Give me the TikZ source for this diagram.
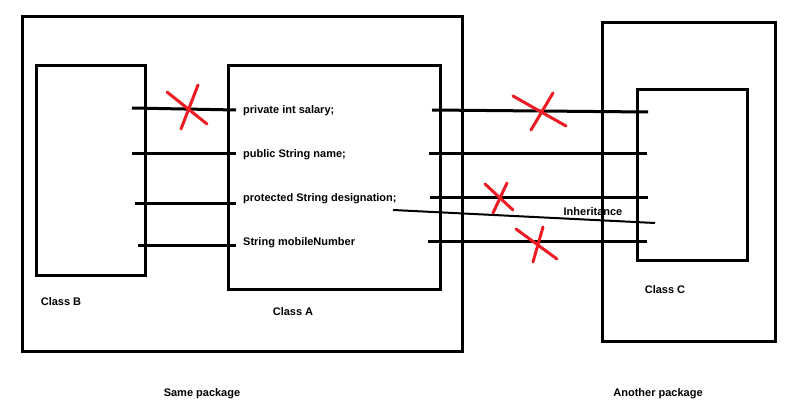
\documentclass[tikz,border=0pt]{standalone}
\usepackage{fontspec}
\newfontfamily\paintfont{Liberation Sans}
\definecolor{xred}{RGB}{237,28,36}
\begin{document}
\begin{tikzpicture}[x=1pt,y=-1pt,
  box/.style={draw=black,line width=3pt,fill=none},
  wire/.style={draw=black,line width=3pt},
  thinwire/.style={draw=black,line width=2pt},
  cross/.style={draw=xred,line width=3pt,line cap=round},
  lbl/.style={font=\paintfont\bfseries\fontsize{11}{13}\selectfont,inner sep=0pt},
  attr/.style={lbl,anchor=west}]
\useasboundingbox[fill=white] (0,0) rectangle (811,414);
% boxes
\draw[box] (22,17) rectangle (462,351);
\draw[box] (36,66) rectangle (145,275);
\draw[box] (228,66) rectangle (440,289);
\draw[box] (602,23) rectangle (775,341);
\draw[box] (637,90) rectangle (747,260);
% attribute texts
\node[attr] (sal) at (243,110.5) {private int salary;};
\node[attr] (nam) at (243,154.5) {public String name;};
\node[attr] (des) at (243,198.5) {protected String designation;};
\node[attr] (mob) at (243,242.5) {String mobileNumber};
% left wires
\coordinate (b1) at (132,108); \coordinate (a1) at (236,110);
\coordinate (b2) at (132,154); \coordinate (a2) at (236,154);
\coordinate (b3) at (135,204); \coordinate (a3) at (236,204);
\coordinate (b4) at (138,245); \coordinate (a4) at (236,245);
\draw[wire] (b1) -- (a1);
\draw[wire] (b2) -- (a2);
\draw[wire] (b3) -- (a3);
\draw[wire] (b4) -- (a4);
% right wires
\coordinate (r1s) at (432,110); \coordinate (r1e) at (648,112);
\coordinate (r2s) at (429,154); \coordinate (r2e) at (647,154);
\coordinate (r3s) at (430,198); \coordinate (r3e) at (648,198);
\coordinate (r4s) at (428,241); \coordinate (r4e) at (647,241);
\draw[wire] (r1s) -- (r1e);
\draw[wire] (r2s) -- (r2e);
\draw[wire] (r3s) -- (r3e);
\draw[wire] (r4s) -- (r4e);
% inheritance line
\coordinate (is) at (393,210); \coordinate (ie) at (655,223);
\draw[thinwire] (is) -- (ie);
\node[lbl] (inh) at (593,212) {Inheritance};
% red crosses
\draw[cross] (167,92) -- (207,124);
\draw[cross] (198,85) -- (181,129);
\draw[cross] (513,96) -- (566,126);
\draw[cross] (553,93) -- (531,130);
\draw[cross] (485,184) -- (513,210);
\draw[cross] (507,183) -- (493,213);
\draw[cross] (516,229) -- (557,259);
\draw[cross] (543,227) -- (533,262);
% labels
\node[lbl] (cb) at (61,302) {Class B};
\node[lbl] (ca) at (293,312) {Class A};
\node[lbl] (cc) at (665,290) {Class C};
\node[lbl] (sp) at (202,394) {Same package};
\node[lbl] (ap) at (658,394) {Another package};
\end{tikzpicture}
\end{document}
